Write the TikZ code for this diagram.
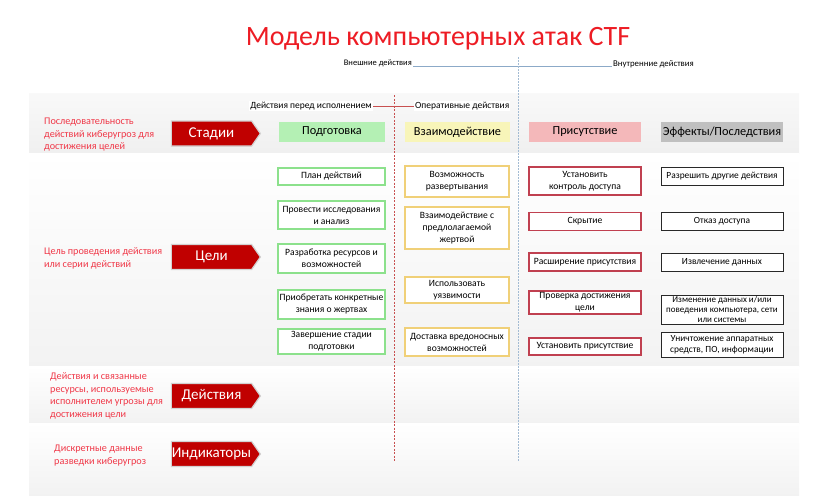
\documentclass[tikz,border=0pt]{standalone}
\usepackage{fontspec}
\setmainfont{Carlito}
\usepackage{xcolor}
\usetikzlibrary{shapes.symbols}

\definecolor{titlered}{RGB}{237,28,36}
\definecolor{descred}{RGB}{240,56,72}
\definecolor{tagred}{RGB}{192,0,0}
\definecolor{prepfill}{RGB}{180,240,180}
\definecolor{prepline}{RGB}{140,225,140}
\definecolor{actfill}{RGB}{248,245,185}
\definecolor{actline}{RGB}{240,208,120}
\definecolor{presfill}{RGB}{244,184,186}
\definecolor{presline}{RGB}{192,64,80}
\definecolor{efffill}{RGB}{192,192,192}
\definecolor{effline}{RGB}{40,40,40}
\definecolor{outline}{RGB}{140,170,200}
\definecolor{opline}{RGB}{200,80,80}

\tikzset{
  tag/.style={signal, signal to=east, signal pointer angle=110, fill=tagred,
    draw=gray!35, line width=1.2pt, text=white, inner sep=0pt,
    minimum width=89pt, minimum height=25pt, font=\fontsize{15}{15}\selectfont},
  desc/.style={anchor=west, align=left, text=descred, inner sep=0pt,
    font=\fontsize{10.2}{12.5}\selectfont},
  phase/.style={inner sep=1pt, fill=white, font=\fontsize{8.5}{10}\selectfont},
  head/.style={minimum height=20pt, inner sep=0pt, font=\fontsize{12.3}{12}\selectfont},
  box/.style={draw, fill=white, line width=1.1pt, align=center, inner sep=0pt,
    font=\fontsize{9.6}{12}\selectfont},
  prep/.style={box, draw=prepline, minimum width=107pt},
  act/.style={box, draw=actline, minimum width=104pt},
  pres/.style={box, draw=presline, minimum width=112pt},
  eff/.style={box, draw=effline, line width=0.9pt, minimum width=122pt,
    font=\fontsize{9.4}{11}\selectfont}
}

\begin{document}
\begin{tikzpicture}[x=1pt,y=-1pt]
\useasboundingbox (0,0) rectangle (817,501);

% background bands
\shade[top color=gray!5, bottom color=gray!12] (29,93) rectangle (799,153);
\shade[top color=white, bottom color=gray!10] (29,153) rectangle (799,366);
\shade[top color=white, bottom color=gray!10] (29,366) rectangle (799,423);
\shade[top color=white, bottom color=gray!10] (29,423) rectangle (799,495);

% title
\node[anchor=base, text=titlered, font=\fontsize{28}{28}\selectfont] (title) at (438,45) {Модель компьютерных атак CTF};

% outside / inside
\node[phase, anchor=east] (outside) at (413,63) {Внешние действия};
\node[phase, anchor=west, font=\fontsize{8.8}{10}\selectfont] (inside) at (612,64) {Внутренние действия};
\draw[outline, line width=0.8pt] (outside.east |- 0,66) -- (inside.west |- 0,66);

% before / during
\node[phase, anchor=east, font=\fontsize{9.5}{10}\selectfont] (before) at (373,106) {Действия перед исполнением};
\node[phase, anchor=west, font=\fontsize{9.5}{10}\selectfont] (during) at (414,106) {Оперативные действия};
\draw[opline, line width=0.8pt] (before) -- (during);

% dividers
\coordinate (optop) at (394,95);
\coordinate (opbot) at (394,462);
\coordinate (intop) at (518,57);
\coordinate (inbot) at (518,462);
\draw[opline, line width=0.9pt, dash pattern=on 2pt off 1.5pt] (optop) -- (opbot);
\draw[outline!80, line width=0.9pt, dash pattern=on 1.5pt off 1.5pt] (intop) -- (inbot);

% rows
\node[tag] (stages) at (211.5,133.5) {Стадии};
\node[tag] (goals) at (211.5,257) {Цели};
\node[tag] (actions) at (211.5,396) {Действия};
\node[tag] (indicators) at (211.5,454) {Индикаторы};

\node[desc] (stagesdesc) at (44,135) {Последовательность\\действий киберугроз для\\достижения целей};
\node[desc] (goalsdesc) at (44,258.5) {Цель проведения действия\\или серии действий};
\node[desc] (actionsdesc) at (50,396) {Действия и связанные\\ресурсы, используемые\\исполнителем угрозы для\\достижения цели};
\node[desc] (indicatorsdesc) at (54,455.5) {Дискретные данные\\разведки киберугроз};

% column heads
\node[head, fill=prepfill, minimum width=106pt] (prephead) at (332,132) {Подготовка};
\node[head, fill=actfill, minimum width=105pt] (acthead) at (457.5,132) {Взаимодействие};
\node[head, fill=presfill, minimum width=112pt] (preshead) at (585,132) {Присутствие};
\node[head, fill=efffill, minimum width=122pt] (effhead) at (722,132) {Эффекты/Последствия};

% preparation
\node[prep, minimum height=17pt] (prep1) at (331.5,176.5) {План действий};
\node[prep, minimum height=28pt] (prep2) at (331.5,215) {Провести исследования\\и анализ};
\node[prep, minimum height=29pt] (prep3) at (331.5,258.5) {Разработка ресурсов и\\возможностей};
\node[prep, minimum height=29pt] (prep4) at (331.5,304.5) {Приобретать конкретные\\знания о жертвах};
\node[prep, minimum height=25pt] (prep5) at (331.5,341.5) {Завершение стадии\\подготовки};

% engagement
\node[act, minimum height=31pt] (act1) at (457,181.5) {Возможность\\развертывания};
\node[act, minimum height=42pt] (act2) at (457,228) {Взаимодействие с\\предлолагаемой\\жертвой};
\node[act, minimum height=26pt] (act3) at (457,290) {Использовать\\уязвимости};
\node[act, minimum height=28pt] (act4) at (457,342) {Доставка вредоносных\\возможностей};

% presence
\node[pres, minimum height=28pt] (pres1) at (585,181) {Установить\\контроль доступа};
\node[pres, minimum height=18pt] (pres2) at (585,221.5) {Скрытие};
\node[pres, minimum height=18pt] (pres3) at (585,262) {Расширение присутствия};
\node[pres, minimum height=23pt] (pres4) at (585,302.5) {Проверка достижения\\цели};
\node[pres, minimum height=17pt] (pres5) at (585,346.5) {Установить присутствие};

% effects
\node[eff, minimum height=18pt] (eff1) at (722,176) {Разрешить другие действия};
\node[eff, minimum height=18pt] (eff2) at (722,221) {Отказ доступа};
\node[eff, minimum height=18pt] (eff3) at (722,262) {Извлечение данных};
\node[eff, minimum height=29pt, font=\fontsize{9}{10}\selectfont] (eff4) at (722,309.5) {Изменение данных и/или\\поведения компьютера, сети\\или системы};
\node[eff, minimum height=25pt] (eff5) at (722,344.5) {Уничтожение аппаратных\\средств, ПО, информации};
\end{tikzpicture}
\end{document}
